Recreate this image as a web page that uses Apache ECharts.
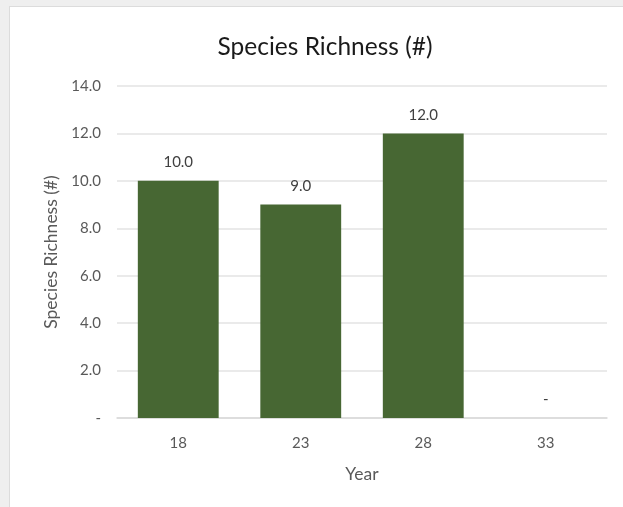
<!DOCTYPE html>
<html>
<head>
<meta charset="utf-8">
<script src="https://cdn.jsdelivr.net/npm/echarts@6/dist/echarts.min.js"></script>
<style>
html,body{margin:0;padding:0;background:#efefef;width:623px;height:507px;overflow:hidden;}
#chart{position:absolute;left:9px;top:6px;width:614px;height:501px;background:#fff;border-left:1px solid #dcdcdc;border-top:1px solid #dcdcdc;}
</style>
</head>
<body>
<div id="chart"></div>
<script>
const categories = ['18', '23', '28', '33'];
const values = [10, 9, 12, 0];
const yTicks = [0, 2, 4, 6, 8, 10, 12, 14];

const FONT = 'Lato';
const fmt = v => (v === 0 ? '-' : v.toFixed(1));

const chart = echarts.init(document.getElementById('chart'), null, {renderer: 'canvas'});
chart.setOption({
  backgroundColor: '#ffffff',
  animation: false,
  textStyle: {fontFamily: FONT},
  title: {
    text: 'Species Richness (#)',
    left: 310, top: 23,
    textAlign: 'center',
    textStyle: {fontFamily: FONT, fontSize: 24.5, fontWeight: 'normal', color: '#1a1a1a'}
  },
  grid: {left: 107, right: 17, top: 79, bottom: 90, containLabel: false},
  xAxis: {
    type: 'category',
    data: categories,
    name: 'Year',
    nameLocation: 'middle',
    nameGap: 47,
    nameTextStyle: {fontFamily: FONT, fontSize: 17.5, color: '#595959'},
    axisLine: {show: true, lineStyle: {color: '#d9d9d9', width: 1.5}},
    axisTick: {show: false},
    axisLabel: {fontFamily: FONT, fontSize: 15, color: '#595959', margin: 18}
  },
  yAxis: {
    type: 'value',
    min: yTicks[0],
    max: yTicks[yTicks.length - 1],
    interval: 2,
    name: 'Species Richness (#)',
    nameLocation: 'middle',
    nameGap: 56,
    nameRotate: 90,
    nameTextStyle: {fontFamily: FONT, fontSize: 17.5, color: '#595959'},
    axisLine: {show: false},
    axisTick: {show: false},
    splitLine: {lineStyle: {color: '#e3e3e3', width: 1.5}},
    axisLabel: {fontFamily: FONT, fontSize: 15, color: '#595959', margin: 16, formatter: fmt}
  },
  series: [{
    type: 'bar',
    data: values,
    barCategoryGap: '34%',
    itemStyle: {color: '#476733'},
    label: {
      show: true,
      position: 'top',
      distance: 11,
      fontFamily: FONT,
      fontSize: 15,
      color: '#404040',
      formatter: p => fmt(p.value)
    }
  }]
});
</script>
</body>
</html>
